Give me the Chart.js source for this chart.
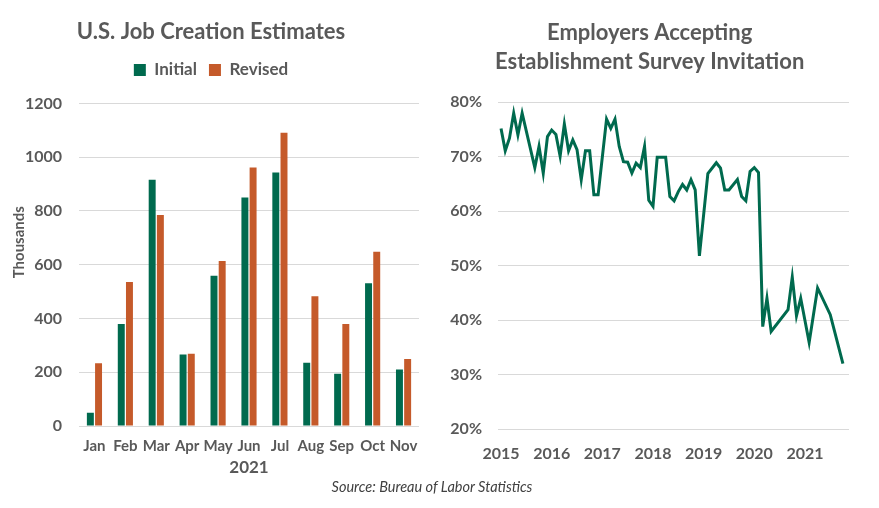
<!DOCTYPE html>
<html>
<head>
<meta charset="utf-8">
<script src="https://cdn.jsdelivr.net/npm/chart.js@4.4.0/dist/chart.umd.min.js"></script>
<style>
  body { margin: 0; background: #fff; width: 879px; height: 508px; overflow: hidden; font-family: Lato, sans-serif; }
  #left { position: absolute; left: 0; top: 0; width: 430px; height: 480px; }
  #right { position: absolute; left: 430px; top: 0; width: 449px; height: 480px; }
  #source { position: absolute; left: 0; top: 478px; width: 864px; text-align: center; font: italic 14.5px Lato, sans-serif; color: #404040; }
</style>
</head>
<body>
<div id="left"><canvas id="jobs-chart"></canvas></div>
<div id="right"><canvas id="survey-chart"></canvas></div>
<div id="source">Source: Bureau of Labor Statistics</div>

<script>
// job creation estimates, 2021 (thousands)
var months = ['Jan', 'Feb', 'Mar', 'Apr', 'May', 'Jun', 'Jul', 'Aug', 'Sep', 'Oct', 'Nov'];
var initialJobs = [49, 379, 916, 266, 559, 850, 943, 235, 194, 531, 210];
var revisedJobs = [233, 536, 785, 269, 614, 962, 1091, 483, 379, 648, 249];

// share of employers accepting the establishment survey invitation (%)
var surveyMonths = [
    '2015-01', '2015-02', '2015-03', '2015-04', '2015-05', '2015-06', '2015-09', '2015-10', '2015-11', '2015-12',
    '2016-01', '2016-02', '2016-03', '2016-04', '2016-05', '2016-06', '2016-07', '2016-08', '2016-09', '2016-10', '2016-11', '2016-12',
    '2017-02', '2017-03', '2017-04', '2017-05', '2017-06', '2017-07', '2017-08', '2017-09', '2017-10', '2017-11', '2017-12',
    '2018-01', '2018-02', '2018-03', '2018-04', '2018-05', '2018-06', '2018-07', '2018-08', '2018-09', '2018-10', '2018-11', '2018-12',
    '2019-02', '2019-04', '2019-05', '2019-06', '2019-07', '2019-09', '2019-10', '2019-11', '2019-12',
    '2020-01', '2020-02', '2020-03', '2020-04', '2020-05', '2020-09', '2020-10', '2020-11', '2020-12',
    '2021-02', '2021-04', '2021-07', '2021-10'
];
var acceptRates = [
    75.2, 71.1, 73.4, 78.0, 74.0, 78.0, 68.0, 71.9, 67.0, 73.7,
    74.9, 74.1, 70.1, 76.0, 71.1, 73.1, 71.3, 65.8, 71.1, 71.1, 63.0, 63.0,
    76.9, 75.2, 76.9, 71.9, 69.1, 69.0, 67.0, 68.8, 68.0, 71.9, 62.0,
    60.9, 69.9, 69.9, 69.9, 62.7, 61.9, 63.6, 64.9, 63.9, 65.8, 63.9, 51.8,
    66.9, 68.9, 67.9, 63.9, 63.9, 65.8, 62.7, 61.9, 67.3,
    68.0, 67.1, 38.8, 44.0, 37.9, 41.9, 47.9, 40.8, 44.0,
    35.9, 45.9, 41.0, 32.0
];

var yearTicks = [2015, 2016, 2017, 2018, 2019, 2020, 2021];
var jobTicks = [0, 200, 400, 600, 800, 1000, 1200];
var rateTicks = [20, 30, 40, 50, 60, 70, 80];

var green = 'rgb(0, 106, 78)';
var orange = 'rgb(197, 90, 42)';
var textGray = '#595959';
var gridGray = '#d9d9d9';

Chart.defaults.font.family = 'Lato, sans-serif';
Chart.defaults.color = textGray;

// pushes the plot area down below the legend
var legendGap = {
    id: 'legendGap',
    beforeInit: function (chart) {
        var fit = chart.legend.fit;
        chart.legend.fit = function () {
            fit.call(this);
            this.height += 15;
        };
    }
};

function fixedTicks(list) {
    return function (scale) {
        scale.ticks = list.map(function (v) { return { value: v }; });
    };
}

new Chart(document.getElementById('jobs-chart'), {
    type: 'bar',
    data: {
        labels: months,
        datasets: [{
            label: 'Initial',
            data: initialJobs,
            backgroundColor: green,
            categoryPercentage: 0.53,
            barPercentage: 0.85
        }, {
            label: 'Revised',
            data: revisedJobs,
            backgroundColor: orange,
            categoryPercentage: 0.53,
            barPercentage: 0.85
        }]
    },
    options: {
        responsive: true,
        maintainAspectRatio: false,
        animation: false,
        layout: { padding: { left: 3, right: 11, top: 0, bottom: 0 } },
        plugins: {
            title: {
                display: true,
                text: 'U.S. Job Creation Estimates',
                color: textGray,
                font: { size: 22, weight: 'bold', lineHeight: 1.2 },
                padding: { top: 19, bottom: 4 }
            },
            legend: {
                labels: {
                    boxWidth: 12,
                    boxHeight: 12,
                    padding: 12,
                    color: textGray,
                    font: { size: 17, weight: 'bold' }
                }
            },
            tooltip: { enabled: false }
        },
        scales: {
            x: {
                grid: { display: false, drawTicks: false },
                border: { display: false },
                ticks: {
                    padding: 11,
                    maxRotation: 0,
                    minRotation: 0,
                    autoSkip: false,
                    color: textGray,
                    font: { size: 15, weight: 'bold' }
                },
                title: {
                    display: true,
                    text: '2021',
                    color: textGray,
                    font: { size: 17, weight: 'bold', lineHeight: 1.2 },
                    padding: { top: 0, bottom: 2 }
                },
                afterFit: function (scale) { scale.height = 54; }
            },
            y: {
                min: 0,
                max: 1200,
                afterBuildTicks: fixedTicks(jobTicks),
                grid: { color: gridGray, drawTicks: false },
                border: { display: false },
                ticks: {
                    padding: 17,
                    color: textGray,
                    font: { size: 16, weight: 'bold' },
                    callback: function (v) { return String(v); }
                },
                title: {
                    display: true,
                    // leading spaces lift the word above the axis middle, as in the original
                    text: '\u2002\u2002\u2002\u2002\u2002\u2002Thousands',
                    color: textGray,
                    font: { size: 15, weight: 'bold', lineHeight: 1.2 },
                    padding: { top: 7, bottom: 0 }
                },
                afterFit: function (scale) { scale.width = 76; }
            }
        }
    },
    plugins: [legendGap]
});

var surveyPoints = [];
for (var i = 0; i < surveyMonths.length; i++) {
    var parts = surveyMonths[i].split('-');
    surveyPoints.push({
        x: parseInt(parts[0], 10) + (parseInt(parts[1], 10) - 1) / 12,
        y: acceptRates[i]
    });
}

new Chart(document.getElementById('survey-chart'), {
    type: 'line',
    data: {
        datasets: [{
            label: 'Accepting',
            data: surveyPoints,
            borderColor: green,
            borderWidth: 3,
            pointRadius: 0,
            tension: 0,
            fill: false
        }]
    },
    options: {
        responsive: true,
        maintainAspectRatio: false,
        animation: false,
        layout: { padding: { left: 12, right: 30, top: 0, bottom: 0 } },
        plugins: {
            title: {
                display: true,
                // thin spaces nudge the centred lines right to sit over the plot
                text: ['\u2009\u2009\u2009Employers Accepting', '\u2009\u2009\u2009Establishment Survey Invitation'],
                color: textGray,
                font: { size: 22, weight: 'bold', lineHeight: 1.32 },
                padding: { top: 18.5, bottom: 25.7 }
            },
            legend: { display: false },
            tooltip: { enabled: false }
        },
        scales: {
            x: {
                type: 'linear',
                min: 2014.94,
                max: 2021.87,
                afterBuildTicks: fixedTicks(yearTicks),
                grid: { display: false, drawTicks: false },
                border: { display: false },
                ticks: {
                    padding: 15,
                    maxRotation: 0,
                    color: textGray,
                    font: { size: 16, weight: 'bold' },
                    callback: function (v) { return String(v); }
                },
                afterFit: function (scale) { scale.height = 51; }
            },
            y: {
                min: 20,
                max: 80,
                afterBuildTicks: fixedTicks(rateTicks),
                grid: { color: gridGray, drawTicks: false },
                border: { display: false },
                ticks: {
                    padding: 16,
                    color: textGray,
                    font: { size: 16, weight: 'bold' },
                    callback: function (v) { return v + '%'; }
                },
                afterFit: function (scale) { scale.width = 56; }
            }
        }
    }
});
</script>
</body>
</html>
